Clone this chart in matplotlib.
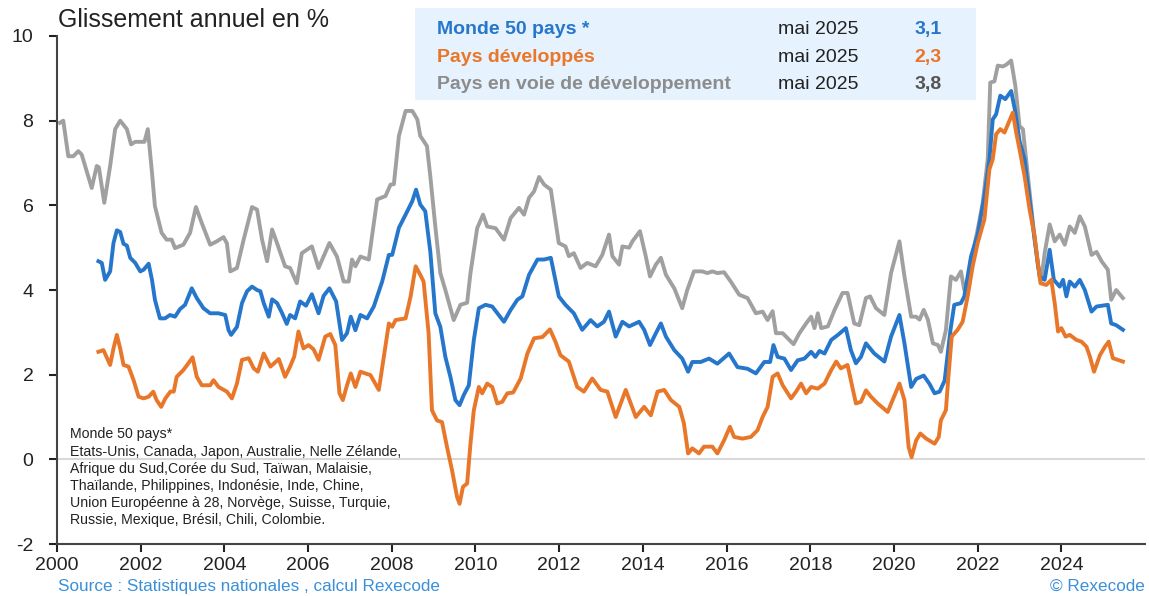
import matplotlib
matplotlib.use("Agg")
import matplotlib.pyplot as plt
from matplotlib.patches import Rectangle

plt.rcParams['font.family'] = ['Liberation Sans', 'DejaVu Sans']
plt.rcParams['axes.unicode_minus'] = False

# Pays en voie de developpement (gris)
gray_t = [2000.07, 2000.15, 2000.27, 2000.39, 2000.51, 2000.59, 2000.83, 2000.95, 2001.0, 2001.13,
          2001.27, 2001.39, 2001.51, 2001.67, 2001.77, 2001.87, 2002.09, 2002.17, 2002.27, 2002.34,
          2002.5, 2002.62, 2002.74, 2002.82, 2003.02, 2003.18, 2003.32, 2003.46, 2003.66, 2003.82,
          2003.98, 2004.06, 2004.14, 2004.3, 2004.46, 2004.66, 2004.78, 2004.9, 2005.02, 2005.14,
          2005.26, 2005.45, 2005.57, 2005.73, 2005.85, 2006.09, 2006.25, 2006.51, 2006.69, 2006.85,
          2006.97, 2007.05, 2007.13, 2007.25, 2007.45, 2007.65, 2007.85, 2007.97, 2008.05, 2008.17,
          2008.33, 2008.49, 2008.61, 2008.68, 2008.84, 2008.92, 2009.04, 2009.16, 2009.28, 2009.48,
          2009.64, 2009.8, 2009.88, 2010.04, 2010.18, 2010.28, 2010.48, 2010.68, 2010.84, 2011.04,
          2011.16, 2011.28, 2011.4, 2011.52, 2011.64, 2011.8, 2011.99, 2012.15, 2012.23, 2012.35,
          2012.51, 2012.67, 2012.87, 2013.03, 2013.19, 2013.27, 2013.43, 2013.51, 2013.67, 2013.75,
          2013.93, 2014.07, 2014.17, 2014.31, 2014.43, 2014.55, 2014.75, 2014.94, 2015.06, 2015.22,
          2015.42, 2015.54, 2015.66, 2015.78, 2015.94, 2016.1, 2016.3, 2016.5, 2016.7, 2016.86,
          2016.98, 2017.1, 2017.18, 2017.34, 2017.6, 2017.74, 2017.9, 2018.02, 2018.1, 2018.18,
          2018.26, 2018.42, 2018.58, 2018.77, 2018.89, 2019.05, 2019.17, 2019.33, 2019.43, 2019.57,
          2019.77, 2019.93, 2020.13, 2020.25, 2020.41, 2020.53, 2020.61, 2020.71, 2020.81, 2020.93,
          2021.05, 2021.12, 2021.24, 2021.36, 2021.48, 2021.6, 2021.68, 2021.76, 2021.88, 2022.0,
          2022.12, 2022.24, 2022.3, 2022.4, 2022.48, 2022.6, 2022.68, 2022.8, 2022.9, 2023.0,
          2023.08, 2023.2, 2023.32, 2023.44, 2023.52, 2023.6, 2023.72, 2023.84, 2023.96, 2024.08,
          2024.2, 2024.32, 2024.44, 2024.56, 2024.72, 2024.84, 2024.96, 2025.11, 2025.19, 2025.31,
          2025.47]
gray_v = [7.95, 8.0, 7.16, 7.16, 7.28, 7.2, 6.41, 6.93, 6.9, 6.06,
          6.93, 7.8, 8.0, 7.8, 7.44, 7.5, 7.5, 7.8, 6.77, 5.98,
          5.35, 5.19, 5.19, 4.99, 5.07, 5.35, 5.96, 5.58, 5.07, 5.15,
          5.25, 5.1, 4.44, 4.52, 5.19, 5.96, 5.9, 5.19, 4.68, 5.43,
          5.1, 4.56, 4.52, 4.16, 4.87, 5.03, 4.52, 5.11, 4.79, 4.2,
          4.2, 4.72, 4.56, 4.79, 4.72, 6.14, 6.22, 6.49, 6.5, 7.64,
          8.23, 8.23, 8.03, 7.64, 7.4, 6.69, 5.5, 4.4, 4.0, 3.29,
          3.65, 3.7, 4.4, 5.46, 5.78, 5.5, 5.46, 5.19, 5.7, 5.94,
          5.78, 6.18, 6.33, 6.67, 6.49, 6.37, 5.11, 5.03, 4.8, 4.87,
          4.52, 4.64, 4.56, 4.83, 5.31, 4.8, 4.6, 5.03, 5.0, 5.15,
          5.39, 4.79, 4.32, 4.6, 4.76, 4.36, 4.04, 3.57, 4.0, 4.44,
          4.44, 4.4, 4.44, 4.4, 4.42, 4.2, 3.89, 3.81, 3.45, 3.49,
          3.29, 3.5, 2.98, 2.98, 2.72, 2.98, 3.21, 3.37, 3.1, 3.45,
          3.1, 3.14, 3.53, 3.93, 3.93, 3.21, 3.17, 3.81, 3.85, 3.57,
          3.41, 4.4, 5.15, 4.32, 3.37, 3.37, 3.3, 3.53, 3.3, 2.74,
          2.7, 2.54, 3.05, 4.32, 4.24, 4.44, 4.0, 4.0, 4.87, 5.43,
          6.06, 7.09, 8.9, 8.93, 9.3, 9.28, 9.32, 9.42, 8.82, 7.87,
          7.8, 6.69, 5.58, 4.56, 4.24, 4.87, 5.55, 5.15, 5.31, 5.07,
          5.5, 5.35, 5.74, 5.5, 4.83, 4.9, 4.68, 4.48, 3.77, 4.0,
          3.81]

# Monde 50 pays (bleu)
blue_t = [2000.99, 2001.07, 2001.15, 2001.27, 2001.35, 2001.43, 2001.51, 2001.59, 2001.67, 2001.75,
          2001.87, 2001.99, 2002.07, 2002.19, 2002.27, 2002.34, 2002.46, 2002.58, 2002.7, 2002.82,
          2002.94, 2003.06, 2003.22, 2003.34, 2003.5, 2003.66, 2003.86, 2004.02, 2004.1, 2004.16,
          2004.3, 2004.42, 2004.54, 2004.66, 2004.78, 2004.86, 2004.94, 2005.06, 2005.14, 2005.26,
          2005.38, 2005.49, 2005.57, 2005.69, 2005.81, 2005.95, 2006.09, 2006.25, 2006.37, 2006.51,
          2006.67, 2006.81, 2006.93, 2007.02, 2007.13, 2007.25, 2007.41, 2007.57, 2007.77, 2007.93,
          2008.01, 2008.17, 2008.37, 2008.49, 2008.58, 2008.68, 2008.8, 2008.92, 2009.04, 2009.16,
          2009.28, 2009.4, 2009.52, 2009.62, 2009.72, 2009.84, 2009.96, 2010.08, 2010.24, 2010.4,
          2010.68, 2010.84, 2011.0, 2011.12, 2011.28, 2011.48, 2011.64, 2011.8, 2011.99, 2012.15,
          2012.35, 2012.55, 2012.75, 2012.91, 2013.07, 2013.19, 2013.35, 2013.51, 2013.67, 2013.91,
          2014.03, 2014.17, 2014.31, 2014.43, 2014.55, 2014.75, 2014.94, 2015.08, 2015.18, 2015.38,
          2015.58, 2015.78, 2016.06, 2016.26, 2016.5, 2016.7, 2016.9, 2017.04, 2017.12, 2017.22,
          2017.38, 2017.54, 2017.7, 2017.86, 2018.02, 2018.12, 2018.22, 2018.34, 2018.5, 2018.66,
          2018.85, 2018.97, 2019.09, 2019.21, 2019.33, 2019.53, 2019.77, 2019.93, 2020.13, 2020.25,
          2020.41, 2020.53, 2020.71, 2020.85, 2020.97, 2021.09, 2021.21, 2021.35, 2021.44, 2021.6,
          2021.68, 2021.84, 2022.0, 2022.16, 2022.28, 2022.36, 2022.44, 2022.54, 2022.66, 2022.8,
          2022.9, 2023.0, 2023.12, 2023.24, 2023.36, 2023.48, 2023.6, 2023.72, 2023.82, 2023.96,
          2024.04, 2024.12, 2024.2, 2024.32, 2024.44, 2024.56, 2024.72, 2024.84, 2025.11, 2025.19,
          2025.31, 2025.47]
blue_v = [4.68, 4.64, 4.24, 4.44, 5.11, 5.41, 5.37, 5.09, 5.05, 4.76,
          4.64, 4.44, 4.48, 4.62, 4.24, 3.77, 3.33, 3.33, 3.41, 3.37,
          3.55, 3.65, 4.04, 3.81, 3.57, 3.45, 3.45, 3.41, 3.05, 2.94,
          3.13, 3.69, 3.97, 4.08, 4.0, 3.97, 3.69, 3.37, 3.78, 3.69,
          3.45, 3.2, 3.41, 3.33, 3.73, 3.63, 3.9, 3.45, 3.86, 4.04,
          3.73, 2.82, 2.98, 3.37, 3.05, 3.41, 3.33, 3.61, 4.2, 4.83,
          4.83, 5.47, 5.86, 6.1, 6.37, 6.02, 5.86, 4.91, 3.45, 3.13,
          2.42, 1.95, 1.4, 1.28, 1.52, 1.75, 2.82, 3.57, 3.65, 3.61,
          3.25, 3.53, 3.77, 3.85, 4.36, 4.72, 4.72, 4.76, 3.85, 3.65,
          3.45, 3.06, 3.29, 3.14, 3.25, 3.49, 2.9, 3.25, 3.14, 3.25,
          3.06, 2.7, 2.98, 3.21, 2.9, 2.58, 2.38, 2.07, 2.3, 2.3,
          2.38, 2.26, 2.5, 2.18, 2.14, 2.03, 2.3, 2.3, 2.7, 2.42,
          2.38, 2.11, 2.34, 2.38, 2.54, 2.42, 2.56, 2.5, 2.82, 2.94,
          3.1, 2.58, 2.27, 2.42, 2.74, 2.5, 2.31, 2.9, 3.41, 2.74,
          1.71, 1.9, 1.98, 1.78, 1.56, 1.6, 1.86, 3.06, 3.65, 3.69,
          3.85, 4.79, 5.31, 6.22, 7.09, 8.03, 8.15, 8.59, 8.51, 8.7,
          8.2, 7.52, 7.09, 6.14, 5.19, 4.32, 4.24, 4.95, 4.24, 4.08,
          4.24, 3.85, 4.2, 4.08, 4.24, 4.0, 3.49, 3.61, 3.65, 3.21,
          3.17, 3.06]

# Pays developpes (orange)
orange_t = [2000.99, 2001.11, 2001.27, 2001.35, 2001.43, 2001.51, 2001.59, 2001.71, 2001.83, 2001.95,
            2002.07, 2002.19, 2002.3, 2002.38, 2002.49, 2002.59, 2002.71, 2002.79, 2002.86, 2003.02,
            2003.14, 2003.24, 2003.34, 2003.46, 2003.66, 2003.74, 2003.86, 2004.06, 2004.18, 2004.3,
            2004.42, 2004.58, 2004.7, 2004.8, 2004.94, 2005.1, 2005.3, 2005.45, 2005.57, 2005.67,
            2005.77, 2005.89, 2006.01, 2006.13, 2006.25, 2006.41, 2006.53, 2006.65, 2006.75, 2006.83,
            2006.93, 2007.02, 2007.13, 2007.25, 2007.49, 2007.69, 2007.81, 2007.93, 2008.01, 2008.09,
            2008.33, 2008.45, 2008.57, 2008.68, 2008.76, 2008.88, 2008.96, 2009.08, 2009.2, 2009.32,
            2009.44, 2009.56, 2009.62, 2009.7, 2009.8, 2009.88, 2009.96, 2010.08, 2010.16, 2010.28,
            2010.4, 2010.52, 2010.64, 2010.76, 2010.9, 2011.08, 2011.24, 2011.4, 2011.6, 2011.78,
            2011.91, 2012.03, 2012.23, 2012.43, 2012.59, 2012.79, 2012.99, 2013.15, 2013.35, 2013.59,
            2013.83, 2014.03, 2014.19, 2014.35, 2014.51, 2014.67, 2014.87, 2014.98, 2015.08, 2015.18,
            2015.34, 2015.46, 2015.66, 2015.78, 2015.94, 2016.08, 2016.18, 2016.38, 2016.58, 2016.74,
            2016.86, 2016.98, 2017.1, 2017.22, 2017.34, 2017.54, 2017.66, 2017.78, 2017.9, 2018.02,
            2018.18, 2018.34, 2018.5, 2018.62, 2018.73, 2018.89, 2019.09, 2019.21, 2019.33, 2019.45,
            2019.61, 2019.85, 2020.13, 2020.25, 2020.35, 2020.42, 2020.53, 2020.63, 2020.77, 2020.97,
            2021.07, 2021.12, 2021.24, 2021.3, 2021.38, 2021.52, 2021.64, 2021.76, 2021.88, 2022.0,
            2022.16, 2022.28, 2022.36, 2022.44, 2022.54, 2022.64, 2022.76, 2022.84, 2022.92, 2023.0,
            2023.12, 2023.24, 2023.36, 2023.44, 2023.5, 2023.64, 2023.76, 2023.84, 2023.92, 2024.0,
            2024.1, 2024.2, 2024.36, 2024.48, 2024.6, 2024.68, 2024.78, 2024.92, 2025.04, 2025.13,
            2025.23, 2025.35, 2025.47]
orange_v = [2.54, 2.58, 2.23, 2.62, 2.94, 2.62, 2.23, 2.19, 1.87, 1.48,
            1.44, 1.48, 1.6, 1.4, 1.24, 1.44, 1.6, 1.6, 1.95, 2.11,
            2.27, 2.41, 1.95, 1.75, 1.75, 1.87, 1.71, 1.6, 1.44, 1.79,
            2.35, 2.39, 2.15, 2.07, 2.5, 2.19, 2.37, 1.95, 2.19, 2.43,
            3.02, 2.62, 2.7, 2.6, 2.35, 2.9, 2.96, 2.7, 1.56, 1.4,
            1.75, 2.03, 1.71, 2.07, 1.99, 1.64, 2.42, 3.21, 3.13, 3.29,
            3.33, 3.85, 4.56, 4.36, 4.2, 2.98, 1.16, 0.92, 0.88, 0.29,
            -0.26, -0.89, -1.05, -0.65, -0.57, 0.37, 1.16, 1.71, 1.56, 1.79,
            1.71, 1.32, 1.36, 1.56, 1.58, 1.91, 2.5, 2.86, 2.89, 3.07,
            2.78, 2.46, 2.31, 1.71, 1.6, 1.91, 1.64, 1.6, 1.0, 1.64,
            1.0, 1.24, 1.04, 1.6, 1.64, 1.4, 1.24, 0.85, 0.14, 0.26,
            0.14, 0.3, 0.3, 0.14, 0.45, 0.77, 0.53, 0.49, 0.53, 0.69,
            1.0, 1.24, 1.95, 2.03, 1.75, 1.44, 1.6, 1.79, 1.56, 1.71,
            1.67, 1.79, 2.11, 2.31, 2.15, 2.23, 1.32, 1.36, 1.63, 1.48,
            1.32, 1.12, 1.79, 1.4, 0.29, 0.05, 0.45, 0.61, 0.49, 0.37,
            0.53, 0.92, 1.16, 1.95, 2.9, 3.06, 3.25, 3.85, 4.56, 5.11,
            5.67, 6.85, 7.09, 7.68, 7.8, 7.72, 8.0, 8.19, 7.72, 7.32,
            6.69, 5.9, 5.27, 4.63, 4.16, 4.12, 4.24, 3.69, 3.02, 3.1,
            2.9, 2.94, 2.82, 2.78, 2.66, 2.43, 2.07, 2.46, 2.66, 2.78,
            2.39, 2.35, 2.31]

legend_labels = ["Monde 50 pays *", "Pays développés", "Pays en voie de développement"]
legend_dates = ["mai 2025", "mai 2025", "mai 2025"]
legend_values = ["3,1", "2,3", "3,8"]
label_colors = ["#2677CC", "#E8772A", "#8C8C8C"]
value_colors = ["#2677CC", "#E8772A", "#555555"]

note_lines = ["Monde 50 pays*",
              "Etats-Unis, Canada, Japon, Australie, Nelle Zélande,",
              "Afrique du Sud,Corée du Sud, Taïwan, Malaisie,",
              "Thaïlande, Philippines, Indonésie, Inde, Chine,",
              "Union Européenne à 28, Norvège, Suisse, Turquie,",
              "Russie, Mexique, Brésil, Chili, Colombie."]

fig = plt.figure(figsize=(11.49, 5.96), dpi=100)
ax = fig.add_axes([0.0496, 0.0872, 0.947, 0.8524])

ax.axhline(0, color="#D9D9D9", lw=1.5, zorder=1)
ax.plot(gray_t, gray_v, color="#A0A0A0", lw=2.8, zorder=2, solid_joinstyle="round")
ax.plot(blue_t, blue_v, color="#2677CC", lw=2.8, zorder=3, solid_joinstyle="round")
ax.plot(orange_t, orange_v, color="#E8772A", lw=2.8, zorder=4, solid_joinstyle="round")

ax.set_xlim(2000, 2026)
ax.set_ylim(-2, 10)
ax.set_xticks(range(2000, 2025, 2))
ax.set_yticks(range(-2, 11, 2))
ax.tick_params(axis="both", labelsize=14, colors="#222222", width=1.5, length=6)
ax.tick_params(axis="y", pad=11)
ax.tick_params(axis="x", pad=3)
for s in ["top", "right"]:
    ax.spines[s].set_visible(False)
for s in ["left", "bottom"]:
    ax.spines[s].set_color("#444444")
    ax.spines[s].set_linewidth(1.5)

fig.text(0.0505, 0.966, "Glissement annuel en %", fontsize=18, va="center", color="#222222")

# encadre legende
fig.patches.append(Rectangle((0.361, 0.832), 0.488, 0.155, transform=fig.transFigure,
                             facecolor="#E6F2FD", edgecolor="none", zorder=0))
rows_y = [0.950, 0.904, 0.859]
for i in range(3):
    fig.text(0.380, rows_y[i], legend_labels[i], fontsize=14, fontweight="bold",
             color=label_colors[i], va="center")
    fig.text(0.677, rows_y[i], legend_dates[i], fontsize=14, color="#222222", va="center")
    fig.text(0.796, rows_y[i], legend_values[i], fontsize=14, fontweight="bold",
             color=value_colors[i], va="center")

note_y = [434, 452, 469, 486, 503, 520]
for line, yy in zip(note_lines, note_y):
    fig.text(0.061, 1 - yy / 596, line, fontsize=10.2, color="#222222", va="center")

fig.text(0.0505, 0.003, "Source : Statistiques nationales , calcul Rexecode", fontsize=12.3,
         color="#3A8FD8", va="bottom")
fig.text(0.996, 0.003, "© Rexecode", fontsize=12.3, color="#3A8FD8", va="bottom", ha="right")

fig.savefig("out.png", dpi=100)
